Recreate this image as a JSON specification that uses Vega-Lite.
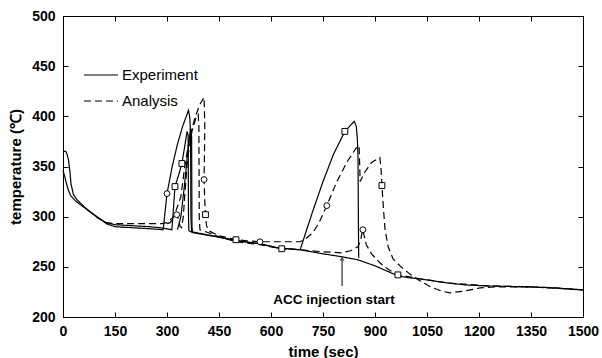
{
  "$schema": "https://vega.github.io/schema/vega-lite/v6.json",
  "width": 520,
  "height": 301,
  "autosize": {"type": "none"},
  "padding": {"left": 63, "top": 16, "right": 19, "bottom": 41},
  "background": "white",
  "datasets": {
    "lines": [
      {"s": "E1", "type": "Experiment", "t": 0, "T": 346},
      {"s": "E1", "type": "Experiment", "t": 5, "T": 340},
      {"s": "E1", "type": "Experiment", "t": 10, "T": 333},
      {"s": "E1", "type": "Experiment", "t": 15, "T": 327},
      {"s": "E1", "type": "Experiment", "t": 22, "T": 321},
      {"s": "E1", "type": "Experiment", "t": 35, "T": 316},
      {"s": "E1", "type": "Experiment", "t": 50, "T": 312},
      {"s": "E1", "type": "Experiment", "t": 70, "T": 307},
      {"s": "E1", "type": "Experiment", "t": 90, "T": 302},
      {"s": "E1", "type": "Experiment", "t": 110, "T": 297},
      {"s": "E1", "type": "Experiment", "t": 125, "T": 293},
      {"s": "E1", "type": "Experiment", "t": 150, "T": 290},
      {"s": "E1", "type": "Experiment", "t": 200, "T": 289},
      {"s": "E1", "type": "Experiment", "t": 250, "T": 288},
      {"s": "E1", "type": "Experiment", "t": 289, "T": 287},
      {"s": "E1", "type": "Experiment", "t": 300, "T": 323},
      {"s": "E1", "type": "Experiment", "t": 315, "T": 350},
      {"s": "E1", "type": "Experiment", "t": 330, "T": 372},
      {"s": "E1", "type": "Experiment", "t": 345, "T": 390},
      {"s": "E1", "type": "Experiment", "t": 362, "T": 406},
      {"s": "E1", "type": "Experiment", "t": 366, "T": 398},
      {"s": "E1", "type": "Experiment", "t": 368, "T": 380},
      {"s": "E1", "type": "Experiment", "t": 369, "T": 300},
      {"s": "E1", "type": "Experiment", "t": 371, "T": 285},
      {"s": "E1", "type": "Experiment", "t": 400, "T": 283},
      {"s": "E1", "type": "Experiment", "t": 444, "T": 280},
      {"s": "E1", "type": "Experiment", "t": 502, "T": 276},
      {"s": "E1", "type": "Experiment", "t": 568, "T": 273},
      {"s": "E1", "type": "Experiment", "t": 617, "T": 269},
      {"s": "E1", "type": "Experiment", "t": 684, "T": 267},
      {"s": "E1", "type": "Experiment", "t": 720, "T": 305},
      {"s": "E1", "type": "Experiment", "t": 750, "T": 335},
      {"s": "E1", "type": "Experiment", "t": 780, "T": 362},
      {"s": "E1", "type": "Experiment", "t": 813, "T": 385},
      {"s": "E1", "type": "Experiment", "t": 840, "T": 395},
      {"s": "E1", "type": "Experiment", "t": 846, "T": 390},
      {"s": "E1", "type": "Experiment", "t": 849, "T": 378},
      {"s": "E1", "type": "Experiment", "t": 851, "T": 360},
      {"s": "E1", "type": "Experiment", "t": 852, "T": 300},
      {"s": "E1", "type": "Experiment", "t": 853, "T": 259},

      {"s": "E2", "type": "Experiment", "t": 0, "T": 365},
      {"s": "E2", "type": "Experiment", "t": 8, "T": 365},
      {"s": "E2", "type": "Experiment", "t": 12, "T": 362},
      {"s": "E2", "type": "Experiment", "t": 16, "T": 356},
      {"s": "E2", "type": "Experiment", "t": 20, "T": 345},
      {"s": "E2", "type": "Experiment", "t": 23, "T": 333},
      {"s": "E2", "type": "Experiment", "t": 30, "T": 322},
      {"s": "E2", "type": "Experiment", "t": 40, "T": 317},
      {"s": "E2", "type": "Experiment", "t": 49, "T": 314},
      {"s": "E2", "type": "Experiment", "t": 70, "T": 307},
      {"s": "E2", "type": "Experiment", "t": 100, "T": 299},
      {"s": "E2", "type": "Experiment", "t": 125, "T": 294},
      {"s": "E2", "type": "Experiment", "t": 150, "T": 292},
      {"s": "E2", "type": "Experiment", "t": 200, "T": 291},
      {"s": "E2", "type": "Experiment", "t": 250, "T": 290},
      {"s": "E2", "type": "Experiment", "t": 280, "T": 289},
      {"s": "E2", "type": "Experiment", "t": 314, "T": 287},
      {"s": "E2", "type": "Experiment", "t": 318, "T": 305},
      {"s": "E2", "type": "Experiment", "t": 323, "T": 330},
      {"s": "E2", "type": "Experiment", "t": 335, "T": 343},
      {"s": "E2", "type": "Experiment", "t": 343, "T": 353},
      {"s": "E2", "type": "Experiment", "t": 352, "T": 372},
      {"s": "E2", "type": "Experiment", "t": 358, "T": 385},
      {"s": "E2", "type": "Experiment", "t": 361, "T": 381},
      {"s": "E2", "type": "Experiment", "t": 362, "T": 300},
      {"s": "E2", "type": "Experiment", "t": 363, "T": 286},
      {"s": "E2", "type": "Experiment", "t": 375, "T": 284},
      {"s": "E2", "type": "Experiment", "t": 444, "T": 280},
      {"s": "E2", "type": "Experiment", "t": 502, "T": 276},
      {"s": "E2", "type": "Experiment", "t": 568, "T": 273},
      {"s": "E2", "type": "Experiment", "t": 617, "T": 269},
      {"s": "E2", "type": "Experiment", "t": 684, "T": 267},
      {"s": "E2", "type": "Experiment", "t": 750, "T": 263},
      {"s": "E2", "type": "Experiment", "t": 805, "T": 260},
      {"s": "E2", "type": "Experiment", "t": 851, "T": 257},
      {"s": "E2", "type": "Experiment", "t": 900, "T": 251},
      {"s": "E2", "type": "Experiment", "t": 966, "T": 241},
      {"s": "E2", "type": "Experiment", "t": 1000, "T": 239},
      {"s": "E2", "type": "Experiment", "t": 1030, "T": 238},
      {"s": "E2", "type": "Experiment", "t": 1108, "T": 234},
      {"s": "E2", "type": "Experiment", "t": 1160, "T": 232},
      {"s": "E2", "type": "Experiment", "t": 1223, "T": 231},
      {"s": "E2", "type": "Experiment", "t": 1347, "T": 230},
      {"s": "E2", "type": "Experiment", "t": 1420, "T": 229},
      {"s": "E2", "type": "Experiment", "t": 1500, "T": 227},

      {"s": "E3", "type": "Experiment", "t": 330, "T": 287},
      {"s": "E3", "type": "Experiment", "t": 340, "T": 300},
      {"s": "E3", "type": "Experiment", "t": 350, "T": 330},
      {"s": "E3", "type": "Experiment", "t": 360, "T": 365},
      {"s": "E3", "type": "Experiment", "t": 368, "T": 388},
      {"s": "E3", "type": "Experiment", "t": 371, "T": 380},
      {"s": "E3", "type": "Experiment", "t": 372, "T": 290},
      {"s": "E3", "type": "Experiment", "t": 374, "T": 284},

      {"s": "A1", "type": "Analysis", "t": 70, "T": 307},
      {"s": "A1", "type": "Analysis", "t": 100, "T": 299},
      {"s": "A1", "type": "Analysis", "t": 125, "T": 294},
      {"s": "A1", "type": "Analysis", "t": 150, "T": 293},
      {"s": "A1", "type": "Analysis", "t": 200, "T": 293},
      {"s": "A1", "type": "Analysis", "t": 250, "T": 293},
      {"s": "A1", "type": "Analysis", "t": 285, "T": 293},
      {"s": "A1", "type": "Analysis", "t": 300, "T": 294},
      {"s": "A1", "type": "Analysis", "t": 320, "T": 300},
      {"s": "A1", "type": "Analysis", "t": 340, "T": 320},
      {"s": "A1", "type": "Analysis", "t": 352, "T": 352},
      {"s": "A1", "type": "Analysis", "t": 365, "T": 378},
      {"s": "A1", "type": "Analysis", "t": 380, "T": 398},
      {"s": "A1", "type": "Analysis", "t": 395, "T": 412},
      {"s": "A1", "type": "Analysis", "t": 407, "T": 419},
      {"s": "A1", "type": "Analysis", "t": 409, "T": 390},
      {"s": "A1", "type": "Analysis", "t": 408, "T": 360},
      {"s": "A1", "type": "Analysis", "t": 407, "T": 337},
      {"s": "A1", "type": "Analysis", "t": 409, "T": 315},
      {"s": "A1", "type": "Analysis", "t": 411, "T": 302},
      {"s": "A1", "type": "Analysis", "t": 414, "T": 291},
      {"s": "A1", "type": "Analysis", "t": 420, "T": 286},
      {"s": "A1", "type": "Analysis", "t": 450, "T": 281},
      {"s": "A1", "type": "Analysis", "t": 499, "T": 277},
      {"s": "A1", "type": "Analysis", "t": 530, "T": 276},
      {"s": "A1", "type": "Analysis", "t": 568, "T": 275},
      {"s": "A1", "type": "Analysis", "t": 620, "T": 275},
      {"s": "A1", "type": "Analysis", "t": 684, "T": 275},
      {"s": "A1", "type": "Analysis", "t": 700, "T": 278},
      {"s": "A1", "type": "Analysis", "t": 721, "T": 284},
      {"s": "A1", "type": "Analysis", "t": 740, "T": 295},
      {"s": "A1", "type": "Analysis", "t": 761, "T": 311},
      {"s": "A1", "type": "Analysis", "t": 790, "T": 335},
      {"s": "A1", "type": "Analysis", "t": 820, "T": 355},
      {"s": "A1", "type": "Analysis", "t": 845, "T": 368},
      {"s": "A1", "type": "Analysis", "t": 854, "T": 371},
      {"s": "A1", "type": "Analysis", "t": 856, "T": 350},
      {"s": "A1", "type": "Analysis", "t": 857, "T": 335},
      {"s": "A1", "type": "Analysis", "t": 870, "T": 344},
      {"s": "A1", "type": "Analysis", "t": 890, "T": 354},
      {"s": "A1", "type": "Analysis", "t": 914, "T": 359},
      {"s": "A1", "type": "Analysis", "t": 917, "T": 350},
      {"s": "A1", "type": "Analysis", "t": 920, "T": 331},
      {"s": "A1", "type": "Analysis", "t": 925, "T": 305},
      {"s": "A1", "type": "Analysis", "t": 929, "T": 287},
      {"s": "A1", "type": "Analysis", "t": 938, "T": 270},
      {"s": "A1", "type": "Analysis", "t": 952, "T": 258},
      {"s": "A1", "type": "Analysis", "t": 975, "T": 250},
      {"s": "A1", "type": "Analysis", "t": 1000, "T": 243},
      {"s": "A1", "type": "Analysis", "t": 1030, "T": 236},
      {"s": "A1", "type": "Analysis", "t": 1060, "T": 230},
      {"s": "A1", "type": "Analysis", "t": 1090, "T": 226},
      {"s": "A1", "type": "Analysis", "t": 1116, "T": 224},
      {"s": "A1", "type": "Analysis", "t": 1160, "T": 226},
      {"s": "A1", "type": "Analysis", "t": 1203, "T": 229},
      {"s": "A1", "type": "Analysis", "t": 1250, "T": 230},
      {"s": "A1", "type": "Analysis", "t": 1350, "T": 230},
      {"s": "A1", "type": "Analysis", "t": 1420, "T": 229},
      {"s": "A1", "type": "Analysis", "t": 1500, "T": 227},

      {"s": "A2", "type": "Analysis", "t": 300, "T": 293},
      {"s": "A2", "type": "Analysis", "t": 309, "T": 294},
      {"s": "A2", "type": "Analysis", "t": 318, "T": 298},
      {"s": "A2", "type": "Analysis", "t": 328, "T": 302},
      {"s": "A2", "type": "Analysis", "t": 334, "T": 297},
      {"s": "A2", "type": "Analysis", "t": 338, "T": 290},
      {"s": "A2", "type": "Analysis", "t": 342, "T": 289},
      {"s": "A2", "type": "Analysis", "t": 347, "T": 300},
      {"s": "A2", "type": "Analysis", "t": 352, "T": 325},
      {"s": "A2", "type": "Analysis", "t": 360, "T": 360},
      {"s": "A2", "type": "Analysis", "t": 372, "T": 385},
      {"s": "A2", "type": "Analysis", "t": 385, "T": 400},
      {"s": "A2", "type": "Analysis", "t": 390, "T": 402},
      {"s": "A2", "type": "Analysis", "t": 392, "T": 390},
      {"s": "A2", "type": "Analysis", "t": 393, "T": 300},
      {"s": "A2", "type": "Analysis", "t": 395, "T": 287},
      {"s": "A2", "type": "Analysis", "t": 420, "T": 284},
      {"s": "A2", "type": "Analysis", "t": 450, "T": 280},
      {"s": "A2", "type": "Analysis", "t": 500, "T": 275},
      {"s": "A2", "type": "Analysis", "t": 568, "T": 272},
      {"s": "A2", "type": "Analysis", "t": 631, "T": 268},
      {"s": "A2", "type": "Analysis", "t": 684, "T": 267},
      {"s": "A2", "type": "Analysis", "t": 750, "T": 265},
      {"s": "A2", "type": "Analysis", "t": 800, "T": 264},
      {"s": "A2", "type": "Analysis", "t": 830, "T": 266},
      {"s": "A2", "type": "Analysis", "t": 850, "T": 270},
      {"s": "A2", "type": "Analysis", "t": 858, "T": 275},
      {"s": "A2", "type": "Analysis", "t": 862, "T": 283},
      {"s": "A2", "type": "Analysis", "t": 865, "T": 287},
      {"s": "A2", "type": "Analysis", "t": 868, "T": 282},
      {"s": "A2", "type": "Analysis", "t": 875, "T": 272},
      {"s": "A2", "type": "Analysis", "t": 890, "T": 263},
      {"s": "A2", "type": "Analysis", "t": 914, "T": 254},
      {"s": "A2", "type": "Analysis", "t": 940, "T": 247},
      {"s": "A2", "type": "Analysis", "t": 966, "T": 242},
      {"s": "A2", "type": "Analysis", "t": 1000, "T": 240},
      {"s": "A2", "type": "Analysis", "t": 1030, "T": 238},
      {"s": "A2", "type": "Analysis", "t": 1108, "T": 234},
      {"s": "A2", "type": "Analysis", "t": 1223, "T": 231},
      {"s": "A2", "type": "Analysis", "t": 1350, "T": 230},
      {"s": "A2", "type": "Analysis", "t": 1500, "T": 227}
    ],
    "marks": [
      {"m": "circle", "t": 300, "T": 323},
      {"m": "circle", "t": 328, "T": 302},
      {"m": "circle", "t": 407, "T": 337},
      {"m": "circle", "t": 568, "T": 275},
      {"m": "circle", "t": 761, "T": 311},
      {"m": "circle", "t": 865, "T": 287},
      {"m": "square", "t": 323, "T": 330},
      {"m": "square", "t": 343, "T": 353},
      {"m": "square", "t": 411, "T": 302},
      {"m": "square", "t": 499, "T": 277},
      {"m": "square", "t": 631, "T": 268},
      {"m": "square", "t": 813, "T": 385},
      {"m": "square", "t": 920, "T": 331},
      {"m": "square", "t": 966, "T": 242}
    ],
    "note": [
      {"t": 805, "T1": 231, "T2": 256, "tip": 258, "label": "ACC injection start", "tl": 782, "TL": 217}
    ]
  },
  "layer": [
    {
      "data": {"name": "lines"},
      "mark": {"type": "line", "color": "black", "strokeWidth": 1.2, "interpolate": "linear"},
      "encoding": {
        "x": {"field": "t", "type": "quantitative", "scale": {"domain": [0, 1500], "nice": false},
              "axis": {"orient": "bottom", "values": [0,150,300,450,600,750,900,1050,1200,1350,1500], "format": "d", "title": "time (sec)", "labelPadding": 12, "titlePadding": 6, "labelFlush": false}},
        "y": {"field": "T", "type": "quantitative", "scale": {"domain": [200, 500], "nice": false, "zero": false},
              "axis": {"orient": "left", "values": [200,250,300,350,400,450,500], "format": "d", "title": "temperature (℃)", "labelPadding": 13, "titlePadding": 8, "labelFlush": false}},
        "detail": {"field": "s"},
        "order": {"value": null},
        "strokeDash": {"field": "type", "type": "nominal",
                       "scale": {"domain": ["Experiment", "Analysis"], "range": [[1, 0], [7, 4]]},
                       "legend": {"orient": "none", "legendX": 20, "legendY": 41, "title": null,
                                  "symbolType": "stroke", "symbolSize": 1156, "symbolStrokeWidth": 1.2,
                                  "symbolStrokeColor": "black", "labelFontSize": 15, "labelFont": "Liberation Sans",
                                  "labelFontWeight": "normal", "labelOffset": 3, "rowPadding": -8, "labelColor": "black"}}
      }
    },
    {
      "data": {"name": "marks"},
      "mark": {"type": "point", "filled": true, "fill": "white", "stroke": "black", "strokeWidth": 1, "size": 34, "opacity": 1},
      "encoding": {
        "x": {"field": "t", "type": "quantitative", "axis": {"orient": "top", "labels": false, "title": null, "domain": false, "values": [0,150,300,450,600,750,900,1050,1200,1350,1500]}},
        "y": {"field": "T", "type": "quantitative", "axis": {"orient": "right", "labels": false, "title": null, "domain": false, "values": [200,250,300,350,400,450,500]}},
        "shape": {"field": "m", "type": "nominal", "scale": {"domain": ["circle", "square"], "range": ["circle", "square"]}, "legend": null}
      }
    },
    {
      "data": {"name": "note"},
      "mark": {"type": "rule", "color": "black", "strokeWidth": 1},
      "encoding": {
        "x": {"field": "t", "type": "quantitative", "axis": null},
        "y": {"field": "T1", "type": "quantitative", "axis": null},
        "y2": {"field": "T2"}
      }
    },
    {
      "data": {"name": "note"},
      "mark": {"type": "point", "shape": "triangle-up", "filled": true, "color": "black", "size": 22},
      "encoding": {
        "x": {"field": "t", "type": "quantitative", "axis": null},
        "y": {"field": "tip", "type": "quantitative", "axis": null}
      }
    },
    {
      "data": {"name": "note"},
      "mark": {"type": "text", "font": "Liberation Sans", "fontWeight": "bold", "fontSize": 13.5, "color": "black", "align": "center", "baseline": "middle"},
      "encoding": {
        "x": {"field": "tl", "type": "quantitative", "axis": null},
        "y": {"field": "TL", "type": "quantitative", "axis": null},
        "text": {"field": "label"}
      }
    }
  ],
  "config": {
    "font": "Liberation Sans",
    "view": {"stroke": "black", "strokeWidth": 1},
    "axis": {
      "grid": false,
      "domainColor": "black",
      "domainWidth": 1,
      "tickColor": "black",
      "tickSize": -5,
      "labelColor": "black",
      "titleColor": "black",
      "labelFont": "Liberation Sans",
      "labelFontWeight": "bold",
      "labelFontSize": 14,
      "titleFont": "Liberation Sans",
      "titleFontSize": 15,
      "titleFontWeight": "bold"
    }
  }
}
